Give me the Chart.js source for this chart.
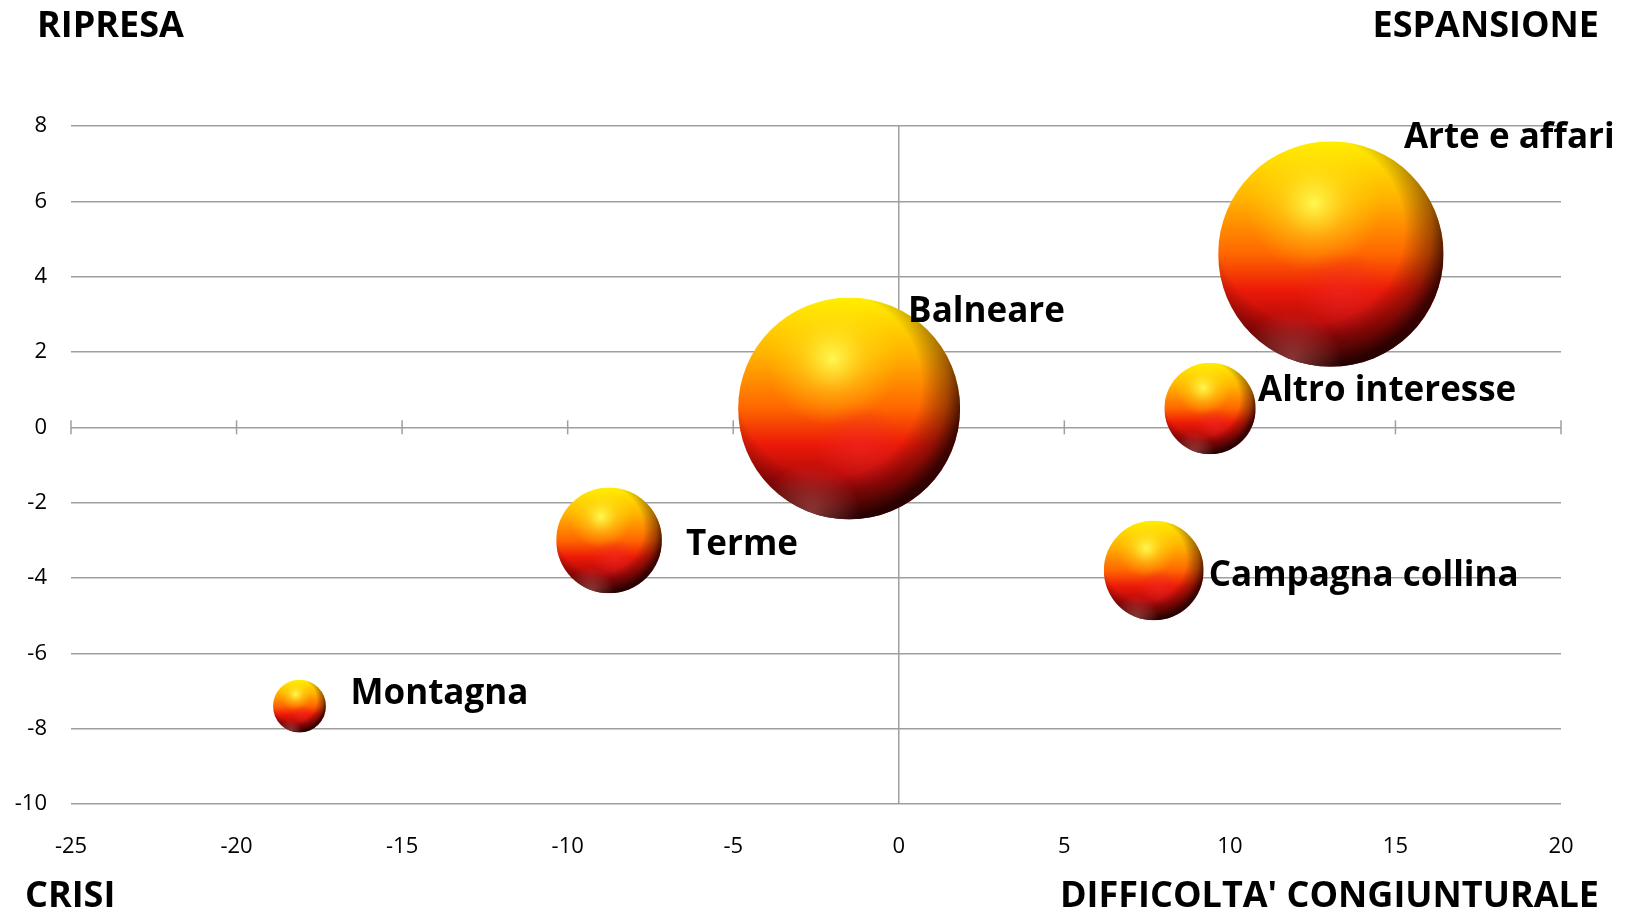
<!DOCTYPE html>
<html>
<head>
<meta charset="utf-8">
<script src="https://cdn.jsdelivr.net/npm/chart.js@4.4.1/dist/chart.umd.min.js"></script>
<style>
    html, body { margin: 0; padding: 0; background: #fff; }
    #wrap { width: 1629px; height: 912px; }
</style>
</head>
<body>
<div id="wrap"><canvas id="bubbleChart" width="1629" height="912"></canvas></div>
<script>
// Data
const categories = ['Balneare', 'Montagna', 'Terme', 'Campagna collina', 'Arte e affari', 'Altro interesse'];
const xValues = [-1.5, -18.1, -8.75, 7.7, 13.05, 9.4];
const yValues = [0.5, -7.4, -3.0, -3.8, 4.6, 0.5];
const sizes = [97, 5.5, 22, 19.6, 100, 16.4];

const quadrantLabels = {
    topLeft: 'RIPRESA',
    topRight: 'ESPANSIONE',
    bottomLeft: 'CRISI',
    bottomRight: "DIFFICOLTA' CONGIUNTURALE"
};

// styling: pixel offset of each data label from its bubble centre
const labelOffsets = [[59, -96], [51, -12], [77, 5], [55, 6], [73, -116], [48, -17]];
const MAX_RADIUS = 112.7;
const maxSize = Math.max(...sizes);

const FONT = '"Open Sans", "DejaVu Sans", sans-serif';
const GRID = '#9f9f9f';

const bubbleData = categories.map((c, i) => ({
    x: xValues[i],
    y: yValues[i],
    r: MAX_RADIUS * Math.sqrt(sizes[i] / maxSize)
}));

// bubbles are allowed to spill past the plot area, so no extra layout padding for them
Chart.BubbleController.prototype.getMaxOverflow = () => 0;

// draws the glossy spheres, the ticks on the zero line and all extra text
const spherePlugin = {
    id: 'spheres',
    beforeDatasetsDraw: (chart) => {
        const ctx = chart.ctx;
        const xs = chart.scales.x;
        const y0 = chart.scales.y.getPixelForValue(0);
        ctx.save();
        ctx.strokeStyle = GRID;
        ctx.lineWidth = 1.5;
        xs.ticks.forEach(t => {
            const px = xs.getPixelForValue(t.value);
            ctx.beginPath();
            ctx.moveTo(px, y0 - 7);
            ctx.lineTo(px, y0 + 7);
            ctx.stroke();
        });
        ctx.restore();
    },
    afterDatasetsDraw: (chart) => {
        const ctx = chart.ctx;
        const meta = chart.getDatasetMeta(0);
        meta.data.forEach((el, i) => {
            const x = el.x, y = el.y, r = el.options.radius;
            ctx.save();
            ctx.beginPath();
            ctx.arc(x, y, r, 0, Math.PI * 2);
            ctx.clip();

            // base colour: yellow top to dark red bottom
            const lin = ctx.createLinearGradient(0, y - r, 0, y + r);
            lin.addColorStop(0, '#ffef00');
            lin.addColorStop(0.25, '#ffb400');
            lin.addColorStop(0.5, '#ff6600');
            lin.addColorStop(0.66, '#ec1a08');
            lin.addColorStop(0.82, '#b00808');
            lin.addColorStop(1, '#5a0505');
            ctx.fillStyle = lin;
            ctx.fillRect(x - r, y - r, r * 2, r * 2);

            // specular highlight
            const hx = x - 0.15 * r, hy = y - 0.45 * r;
            const hl = ctx.createRadialGradient(hx, hy, 0, hx, hy, 0.6 * r);
            hl.addColorStop(0, 'rgba(255,255,90,0.9)');
            hl.addColorStop(0.5, 'rgba(255,240,40,0.35)');
            hl.addColorStop(1, 'rgba(255,230,0,0)');
            ctx.fillStyle = hl;
            ctx.fillRect(x - r, y - r, r * 2, r * 2);

            // red glow in lower body
            const gx = x + 0.1 * r, gy = y + 0.35 * r;
            const gl = ctx.createRadialGradient(gx, gy, 0, gx, gy, 0.4 * r);
            gl.addColorStop(0, 'rgba(240,40,40,0.5)');
            gl.addColorStop(1, 'rgba(240,40,40,0)');
            ctx.fillStyle = gl;
            ctx.fillRect(x - r, y - r, r * 2, r * 2);

            // darker rim, heavier on right and bottom
            const sx = x - 0.18 * r, sy = y - 0.22 * r;
            const sh = ctx.createRadialGradient(sx, sy, 0, sx, sy, 1.22 * r);
            sh.addColorStop(0, 'rgba(40,0,0,0)');
            sh.addColorStop(0.68, 'rgba(40,0,0,0)');
            sh.addColorStop(0.88, 'rgba(50,5,0,0.45)');
            sh.addColorStop(1, 'rgba(30,0,0,0.85)');
            ctx.fillStyle = sh;
            ctx.fillRect(x - r, y - r, r * 2, r * 2);

            // faint reflected light at bottom-left edge
            const rx = x - 0.35 * r, ry = y + 0.95 * r;
            const rl = ctx.createRadialGradient(rx, ry, 0, rx, ry, 0.45 * r);
            rl.addColorStop(0, 'rgba(220,120,120,0.45)');
            rl.addColorStop(1, 'rgba(220,120,120,0)');
            ctx.fillStyle = rl;
            ctx.fillRect(x - r, y - r, r * 2, r * 2);
            ctx.restore();

            // data label
            ctx.save();
            ctx.font = 'bold 35px ' + FONT;
            ctx.fillStyle = '#000';
            ctx.textAlign = 'left';
            ctx.textBaseline = 'middle';
            ctx.fillText(categories[i], x + labelOffsets[i][0], y + labelOffsets[i][1]);
            ctx.restore();
        });
    },
    afterDraw: (chart) => {
        const ctx = chart.ctx;
        ctx.save();
        ctx.font = 'bold 36px ' + FONT;
        ctx.fillStyle = '#000';
        ctx.textBaseline = 'alphabetic';
        ctx.textAlign = 'left';
        ctx.fillText(quadrantLabels.topLeft, 37, 37);
        ctx.fillText(quadrantLabels.bottomLeft, 25, 907);
        ctx.textAlign = 'right';
        ctx.fillText(quadrantLabels.topRight, 1599, 37);
        ctx.fillText(quadrantLabels.bottomRight, 1599, 907);
        ctx.restore();
    }
};

const chart = new Chart(document.getElementById('bubbleChart').getContext('2d'), {
    type: 'bubble',
    data: {
        datasets: [{
            data: bubbleData,
            backgroundColor: 'rgba(0,0,0,0)',
            borderWidth: 0,
            hoverRadius: 0,
            clip: false
        }]
    },
    options: {
        responsive: false,
        animation: false,
        events: [],
        layout: { padding: { top: 126, right: 68, left: 0, bottom: 0 } },
        plugins: {
            legend: { display: false },
            tooltip: { enabled: false }
        },
        scales: {
            x: {
                type: 'linear',
                min: -25,
                max: 20,
                afterFit: (s) => { s.height = 108; },
                border: { display: false },
                grid: {
                    drawTicks: false,
                    lineWidth: 1.5,
                    color: (c) => c.tick && c.tick.value === 0 ? GRID : 'rgba(0,0,0,0)'
                },
                ticks: {
                    stepSize: 5,
                    padding: 30,
                    color: '#000',
                    font: { family: FONT, size: 22 }
                }
            },
            y: {
                type: 'linear',
                min: -10,
                max: 8,
                afterFit: (s) => { s.width = 71; },
                border: { display: false },
                grid: {
                    drawTicks: false,
                    lineWidth: 1.5,
                    color: GRID
                },
                ticks: {
                    stepSize: 2,
                    padding: 24,
                    color: '#000',
                    font: { family: FONT, size: 22 }
                }
            }
        }
    },
    plugins: [spherePlugin]
});
</script>
</body>
</html>
